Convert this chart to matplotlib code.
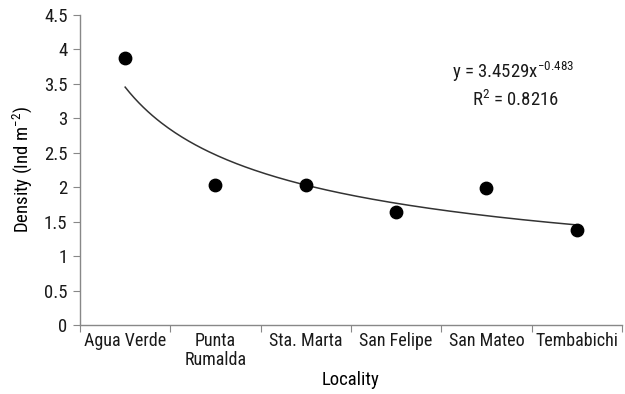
import numpy as np
import matplotlib
matplotlib.use("Agg")
import matplotlib.pyplot as plt

# Locality densities
localities = ["Agua Verde", "Punta\nRumalda", "Sta. Marta", "San Felipe", "San Mateo", "Tembabichi"]
density = [3.88, 2.03, 2.03, 1.64, 1.99, 1.38]

# Power trendline y = a * x^b
coef_a = 3.4529
coef_b = -0.483
r_squared = 0.8216

plt.rcParams["font.family"] = ["Roboto Condensed", "DejaVu Sans"]
plt.rcParams["mathtext.fontset"] = "custom"
plt.rcParams["mathtext.rm"] = "Roboto Condensed"
plt.rcParams["mathtext.it"] = "Roboto Condensed"
plt.rcParams["mathtext.default"] = "regular"
plt.rcParams["text.color"] = "#1a1a1a"

fig = plt.figure(figsize=(6.25, 3.94), dpi=100)
ax = fig.add_axes([0.128, 0.175, 0.867, 0.787])

x = np.arange(1, len(localities) + 1)
ax.scatter(x, density, s=80, color="black", zorder=3)

xs = np.linspace(1, len(localities), 200)
ax.plot(xs, coef_a * xs ** coef_b, color="#333333", lw=1.1)

ax.set_xlim(0.5, len(localities) + 0.5)
ax.set_ylim(0, 4.5)
ax.set_yticks(np.arange(0, 4.51, 0.5))
ax.set_yticklabels(["0", "0.5", "1", "1.5", "2", "2.5", "3", "3.5", "4", "4.5"])

ax.set_xticks(np.arange(0.5, len(localities) + 1, 1.0))
ax.set_xticklabels([])
ax.set_xticks(x, minor=True)
ax.set_xticklabels(localities, minor=True, fontsize=13, linespacing=1.05)
ax.tick_params(axis="x", which="minor", length=0, pad=5, labelcolor="#1a1a1a")
ax.tick_params(axis="x", which="major", length=5, color="#888888")
ax.tick_params(axis="y", length=5, color="#888888", labelsize=13.5, pad=4, labelcolor="#1a1a1a")

for side in ["top", "right"]:
    ax.spines[side].set_visible(False)
for side in ["left", "bottom"]:
    ax.spines[side].set_color("#888888")
    ax.spines[side].set_linewidth(1.0)

ax.set_xlabel("Locality", fontsize=13.5, labelpad=2)
ax.set_ylabel("Density (Ind m$^{-2}$)", fontsize=13.5, labelpad=7)

ax.text(5.3, 3.68, "y = 3.4529x$^{-0.483}$", fontsize=13.5, ha="center", va="center")
ax.text(5.32, 3.26, "R$^{2}$ = %.4f" % r_squared, fontsize=13.5, ha="center", va="center")

fig.savefig("out.png", dpi=100, facecolor="white")
